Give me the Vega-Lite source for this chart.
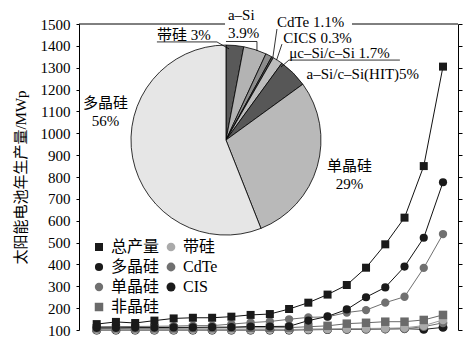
{
  "$schema": "https://vega.github.io/schema/vega-lite/v6.json",
  "width": 379,
  "height": 306,
  "autosize": "none",
  "padding": {"left": 79, "top": 24, "right": 10, "bottom": 28},
  "background": "white",
  "config": {
    "view": {"stroke": null},
    "font": "Liberation Serif, Noto Sans CJK SC",
    "axis": {"labelFont": "Liberation Serif", "labelFontSize": 15, "labelColor": "black", "domainColor": "black", "tickColor": "black", "grid": false},
    "legend": {"labelFont": "Liberation Serif, Noto Sans CJK SC", "labelFontSize": 16, "labelColor": "black"}
  },
  "data": {"values": [
    {"year": 1986, "总产量": 127, "多晶硅": 110, "单晶硅": 115, "非晶硅": 108, "带硅": 102, "CdTe": 101, "CIS": 100},
    {"year": 1987, "总产量": 137, "多晶硅": 110, "单晶硅": 116, "非晶硅": 108, "带硅": 102, "CdTe": 101, "CIS": 100},
    {"year": 1988, "总产量": 132, "多晶硅": 111, "单晶硅": 116, "非晶硅": 108, "带硅": 102, "CdTe": 101, "CIS": 100},
    {"year": 1989, "总产量": 143, "多晶硅": 111, "单晶硅": 117, "非晶硅": 108, "带硅": 102, "CdTe": 101, "CIS": 100},
    {"year": 1990, "总产量": 153, "多晶硅": 112, "单晶硅": 118, "非晶硅": 108, "带硅": 102, "CdTe": 101, "CIS": 100},
    {"year": 1991, "总产量": 156, "多晶硅": 112, "单晶硅": 120, "非晶硅": 109, "带硅": 102, "CdTe": 101, "CIS": 100},
    {"year": 1992, "总产量": 156, "多晶硅": 113, "单晶硅": 120, "非晶硅": 109, "带硅": 102, "CdTe": 101, "CIS": 100},
    {"year": 1993, "总产量": 161, "多晶硅": 113, "单晶硅": 127, "非晶硅": 110, "带硅": 102, "CdTe": 101, "CIS": 100},
    {"year": 1994, "总产量": 169, "多晶硅": 116, "单晶硅": 134, "非晶硅": 110, "带硅": 102, "CdTe": 101, "CIS": 100},
    {"year": 1995, "总产量": 173, "多晶硅": 116, "单晶硅": 139, "非晶硅": 110, "带硅": 102, "CdTe": 101, "CIS": 100},
    {"year": 1996, "总产量": 196, "多晶硅": 117, "单晶硅": 149, "非晶硅": 111, "带硅": 102, "CdTe": 101, "CIS": 100},
    {"year": 1997, "总产量": 225, "多晶硅": 143, "单晶硅": 158, "非晶硅": 115, "带硅": 104, "CdTe": 103, "CIS": 101},
    {"year": 1998, "总产量": 262, "多晶硅": 162, "单晶硅": 160, "非晶硅": 119, "带硅": 105, "CdTe": 103, "CIS": 102},
    {"year": 1999, "总产量": 306, "多晶硅": 194, "单晶硅": 180, "非晶硅": 129, "带硅": 106, "CdTe": 104, "CIS": 103},
    {"year": 2000, "总产量": 385, "多晶硅": 250, "单晶硅": 191, "非晶硅": 133, "带硅": 107, "CdTe": 104, "CIS": 104},
    {"year": 2001, "总产量": 492, "多晶硅": 295, "单晶硅": 225, "非晶硅": 138, "带硅": 108, "CdTe": 105, "CIS": 105},
    {"year": 2002, "总产量": 614, "多晶硅": 390, "单晶硅": 252, "非晶硅": 138, "带硅": 110, "CdTe": 106, "CIS": 106},
    {"year": 2003, "总产量": 850, "多晶硅": 522, "单晶硅": 384, "非晶硅": 146, "带硅": 120, "CdTe": 115, "CIS": 103},
    {"year": 2004, "总产量": 1305, "多晶硅": 776, "单晶硅": 539, "非晶硅": 169, "带硅": 146, "CdTe": 133, "CIS": 112}
  ]},
  "resolve": {"axis": {"y": "independent"}},
  "layer": [
    {
      "transform": [{"fold": ["CIS", "CdTe", "带硅", "非晶硅", "单晶硅", "多晶硅", "总产量"], "as": ["series", "value"]}],
      "mark": {"type": "line", "strokeWidth": 1},
      "encoding": {
        "x": {"field": "year", "type": "quantitative", "scale": {"domain": [1985.08, 2004.78], "nice": false, "zero": false},
              "axis": {"values": [1986, 1988, 1990, 1992, 1994, 1996, 1998, 2000, 2002, 2004], "format": "d", "title": null, "tickSize": 4, "labelPadding": 4, "labelFlush": false, "domainWidth": 1}},
        "y": {"field": "value", "type": "quantitative", "scale": {"domain": [100, 1500], "nice": false, "zero": false},
              "axis": {"values": [100, 200, 300, 400, 500, 600, 700, 800, 900, 1000, 1100, 1200, 1300, 1400, 1500], "format": "d", "title": "太阳能电池年生产量/MWp", "titleFont": "Liberation Serif, Noto Sans CJK SC", "titleFontSize": 15, "titleFontWeight": "normal", "titleColor": "black", "titlePadding": 12, "tickSize": 3, "labelPadding": 6, "labelFlush": false}},
        "stroke": {"field": "series", "type": "nominal", "legend": null,
                   "scale": {"domain": ["CIS", "CdTe", "带硅", "非晶硅", "单晶硅", "多晶硅", "总产量"], "range": ["#222222", "#707070", "#9a9a9a", "#6a6a6a", "#707070", "#111111", "#111111"]}},
        "detail": {"field": "series"}
      }
    },
    {
      "transform": [{"fold": ["CIS", "CdTe", "带硅", "非晶硅", "单晶硅", "多晶硅", "总产量"], "as": ["series", "value"]}],
      "mark": {"type": "point", "filled": true, "opacity": 1},
      "encoding": {
        "x": {"field": "year", "type": "quantitative", "axis": null},
        "y": {"field": "value", "type": "quantitative",
              "axis": {"orient": "right", "values": [100, 200, 300, 400, 500, 600, 700, 800, 900, 1000, 1100, 1200, 1300, 1400, 1500], "labels": false, "title": null, "tickSize": 4}},
        "color": {"field": "series", "type": "nominal",
                  "scale": {"domain": ["总产量", "多晶硅", "单晶硅", "非晶硅", "带硅", "CdTe", "CIS"], "range": ["#1a1a1a", "#1a1a1a", "#707070", "#6a6a6a", "#aaaaaa", "#707070", "#1a1a1a"]},
                  "legend": {"title": null, "orient": "none", "legendX": 12, "legendY": 215, "columns": 2, "padding": 0, "rowPadding": 4, "columnPadding": 3, "labelOffset": 4, "symbolStrokeWidth": 0}},
        "shape": {"field": "series", "type": "nominal",
                  "scale": {"domain": ["总产量", "多晶硅", "单晶硅", "非晶硅", "带硅", "CdTe", "CIS"], "range": ["square", "circle", "circle", "square", "circle", "circle", "circle"]}},
        "size": {"field": "series", "type": "nominal",
                 "scale": {"domain": ["总产量", "多晶硅", "单晶硅", "非晶硅", "带硅", "CdTe", "CIS"], "range": [64, 80, 80, 64, 40, 30, 28]}}
      }
    },
    {
      "data": {"values": [
        {"type": "带硅", "pct": 3, "k": 1},
        {"type": "a-Si", "pct": 3.9, "k": 2},
        {"type": "CdTe", "pct": 1.1, "k": 3},
        {"type": "CICS", "pct": 0.3, "k": 4},
        {"type": "μc-Si/c-Si", "pct": 1.7, "k": 5},
        {"type": "a-Si/c-Si(HIT)", "pct": 5, "k": 6},
        {"type": "单晶硅", "pct": 29, "k": 7},
        {"type": "多晶硅", "pct": 56, "k": 8}
      ]},
      "mark": {"type": "arc", "outerRadius": 95, "stroke": "black", "strokeWidth": 0.8},
      "encoding": {
        "x": {"datum": 1992.72, "type": "quantitative", "axis": null},
        "y": {"datum": 969, "type": "quantitative", "axis": null},
        "theta": {"field": "pct", "type": "quantitative", "stack": true},
        "order": {"field": "k", "type": "quantitative"},
        "fill": {"field": "type", "type": "nominal", "legend": null,
                 "scale": {"domain": ["带硅", "a-Si", "CdTe", "CICS", "μc-Si/c-Si", "a-Si/c-Si(HIT)", "单晶硅", "多晶硅"],
                           "range": ["#595959", "#b3b3b3", "#8c8c8c", "#555555", "#bdbdbd", "#575757", "#b9b9b9", "#e6e6e6"]}}
      }
    },
    {
      "data": {"values": [{"t": "带硅 3%"}]},
      "mark": {"type": "text", "align": "left", "baseline": "middle", "fontSize": 15, "font": "Liberation Serif, Noto Sans CJK SC", "color": "black"},
      "encoding": {"x": {"datum": 1989.13, "type": "quantitative", "axis": null}, "y": {"datum": 1450, "type": "quantitative", "axis": null}, "text": {"field": "t"}}
    },
    {
      "data": {"values": [{"t": "a–Si"}]},
      "mark": {"type": "text", "align": "left", "baseline": "middle", "fontSize": 15, "font": "Liberation Serif", "color": "black"},
      "encoding": {"x": {"datum": 1992.82, "type": "quantitative", "axis": null}, "y": {"datum": 1541, "type": "quantitative", "axis": null}, "text": {"field": "t"}}
    },
    {
      "data": {"values": [{"t": "3.9%"}]},
      "mark": {"type": "text", "align": "left", "baseline": "middle", "fontSize": 15, "font": "Liberation Serif", "color": "black"},
      "encoding": {"x": {"datum": 1992.82, "type": "quantitative", "axis": null}, "y": {"datum": 1459, "type": "quantitative", "axis": null}, "text": {"field": "t"}}
    },
    {
      "data": {"values": [{"t": "CdTe 1.1%"}]},
      "mark": {"type": "text", "align": "left", "baseline": "middle", "fontSize": 15, "font": "Liberation Serif", "color": "black"},
      "encoding": {"x": {"datum": 1995.37, "type": "quantitative", "axis": null}, "y": {"datum": 1507, "type": "quantitative", "axis": null}, "text": {"field": "t"}}
    },
    {
      "data": {"values": [{"t": "CICS 0.3%"}]},
      "mark": {"type": "text", "align": "left", "baseline": "middle", "fontSize": 15, "font": "Liberation Serif", "color": "black"},
      "encoding": {"x": {"datum": 1995.7, "type": "quantitative", "axis": null}, "y": {"datum": 1437, "type": "quantitative", "axis": null}, "text": {"field": "t"}}
    },
    {
      "data": {"values": [{"t": "μc–Si/c–Si 1.7%"}]},
      "mark": {"type": "text", "align": "left", "baseline": "middle", "fontSize": 15, "font": "Liberation Serif", "color": "black"},
      "encoding": {"x": {"datum": 1996.01, "type": "quantitative", "axis": null}, "y": {"datum": 1369, "type": "quantitative", "axis": null}, "text": {"field": "t"}}
    },
    {
      "data": {"values": [{"t": "a–Si/c–Si(HIT)5%"}]},
      "mark": {"type": "text", "align": "left", "baseline": "middle", "fontSize": 15, "font": "Liberation Serif", "color": "black"},
      "encoding": {"x": {"datum": 1996.91, "type": "quantitative", "axis": null}, "y": {"datum": 1271, "type": "quantitative", "axis": null}, "text": {"field": "t"}}
    },
    {
      "data": {"values": [{"t": "单晶硅"}]},
      "mark": {"type": "text", "align": "center", "baseline": "middle", "fontSize": 15, "font": "Liberation Serif, Noto Sans CJK SC", "color": "black"},
      "encoding": {"x": {"datum": 1999.14, "type": "quantitative", "axis": null}, "y": {"datum": 852, "type": "quantitative", "axis": null}, "text": {"field": "t"}}
    },
    {
      "data": {"values": [{"t": "29%"}]},
      "mark": {"type": "text", "align": "center", "baseline": "middle", "fontSize": 15, "font": "Liberation Serif", "color": "black"},
      "encoding": {"x": {"datum": 1999.14, "type": "quantitative", "axis": null}, "y": {"datum": 768, "type": "quantitative", "axis": null}, "text": {"field": "t"}}
    },
    {
      "data": {"values": [{"t": "多晶硅"}]},
      "mark": {"type": "text", "align": "center", "baseline": "middle", "fontSize": 15, "font": "Liberation Serif, Noto Sans CJK SC", "color": "black"},
      "encoding": {"x": {"datum": 1986.46, "type": "quantitative", "axis": null}, "y": {"datum": 1137, "type": "quantitative", "axis": null}, "text": {"field": "t"}}
    },
    {
      "data": {"values": [{"t": "56%"}]},
      "mark": {"type": "text", "align": "center", "baseline": "middle", "fontSize": 15, "font": "Liberation Serif", "color": "black"},
      "encoding": {"x": {"datum": 1986.46, "type": "quantitative", "axis": null}, "y": {"datum": 1056, "type": "quantitative", "axis": null}, "text": {"field": "t"}}
    },
    {"data": {"values": [{}]}, "mark": {"type": "rule", "color": "black", "strokeWidth": 1},
     "encoding": {"x": {"datum": 1985.08, "type": "quantitative", "axis": null}, "x2": {"datum": 1992.67}, "y": {"datum": 1500, "type": "quantitative", "axis": null}, "y2": {"datum": 1500}}},
    {"data": {"values": [{}]}, "mark": {"type": "rule", "color": "black", "strokeWidth": 1},
     "encoding": {"x": {"datum": 1999.27, "type": "quantitative", "axis": null}, "x2": {"datum": 2004.78}, "y": {"datum": 1500, "type": "quantitative", "axis": null}, "y2": {"datum": 1500}}},
    {"data": {"values": [{}]}, "mark": {"type": "rule", "color": "black", "strokeWidth": 0.8},
     "encoding": {"x": {"datum": 1989.13, "type": "quantitative", "axis": null}, "x2": {"datum": 1992.25}, "y": {"datum": 1418, "type": "quantitative", "axis": null}, "y2": {"datum": 1418}}},
    {"data": {"values": [{}]}, "mark": {"type": "rule", "color": "black", "strokeWidth": 0.8},
     "encoding": {"x": {"datum": 1992.25, "type": "quantitative", "axis": null}, "x2": {"datum": 1992.88}, "y": {"datum": 1418, "type": "quantitative", "axis": null}, "y2": {"datum": 1386}}},
    {"data": {"values": [{}]}, "mark": {"type": "rule", "color": "black", "strokeWidth": 0.8},
     "encoding": {"x": {"datum": 1992.72, "type": "quantitative", "axis": null}, "x2": {"datum": 1994.33}, "y": {"datum": 1420, "type": "quantitative", "axis": null}, "y2": {"datum": 1420}}},
    {"data": {"values": [{}]}, "mark": {"type": "rule", "color": "black", "strokeWidth": 0.8},
     "encoding": {"x": {"datum": 1994.33, "type": "quantitative", "axis": null}, "x2": {"datum": 1994.33}, "y": {"datum": 1420, "type": "quantitative", "axis": null}, "y2": {"datum": 1377}}},
    {"data": {"values": [{}]}, "mark": {"type": "rule", "color": "black", "strokeWidth": 0.8},
     "encoding": {"x": {"datum": 1995.37, "type": "quantitative", "axis": null}, "x2": {"datum": 1995.16}, "y": {"datum": 1477, "type": "quantitative", "axis": null}, "y2": {"datum": 1349}}},
    {"data": {"values": [{}]}, "mark": {"type": "rule", "color": "black", "strokeWidth": 0.8},
     "encoding": {"x": {"datum": 1995.63, "type": "quantitative", "axis": null}, "x2": {"datum": 1995.35}, "y": {"datum": 1408, "type": "quantitative", "axis": null}, "y2": {"datum": 1335}}},
    {"data": {"values": [{}]}, "mark": {"type": "rule", "color": "black", "strokeWidth": 0.8},
     "encoding": {"x": {"datum": 1995.99, "type": "quantitative", "axis": null}, "x2": {"datum": 2001.76}, "y": {"datum": 1335, "type": "quantitative", "axis": null}, "y2": {"datum": 1335}}},
    {"data": {"values": [{}]}, "mark": {"type": "rule", "color": "black", "strokeWidth": 0.8},
     "encoding": {"x": {"datum": 1995.99, "type": "quantitative", "axis": null}, "x2": {"datum": 1995.58}, "y": {"datum": 1335, "type": "quantitative", "axis": null}, "y2": {"datum": 1303}}}
  ]
}
